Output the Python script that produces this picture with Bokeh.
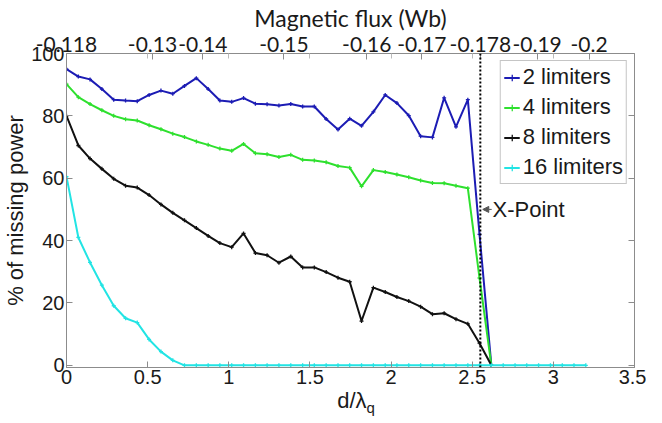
from bokeh.plotting import figure
from bokeh.layouts import column
from bokeh.models import (Range1d, LinearAxis, FixedTicker, Span, Label, Arrow,
                          NormalHead, Legend, LegendItem, Div)
from bokeh.embed import file_html
from bokeh.resources import INLINE

# normalised distance d/lambda_q
D = [0.000, 0.073, 0.145, 0.218, 0.291, 0.364, 0.436, 0.509, 0.582, 0.655,
     0.727, 0.800, 0.873, 0.945, 1.018, 1.091, 1.164, 1.236, 1.309, 1.382,
     1.455, 1.527, 1.600, 1.673, 1.745, 1.818, 1.891, 1.964, 2.036, 2.109,
     2.182, 2.255, 2.327, 2.400, 2.473, 2.545, 2.618, 2.691, 2.764, 2.836,
     2.909, 2.982, 3.055, 3.127, 3.200]

LIM2 = [95.0, 92.6, 91.7, 88.6, 85.2, 84.9, 84.7, 86.7, 88.1, 87.1,
        89.6, 92.1, 88.6, 84.9, 84.5, 85.7, 83.9, 83.7, 83.3, 83.8,
        83.0, 83.0, 79.0, 75.6, 79.1, 76.8, 81.3, 86.7, 84.1, 80.1,
        73.5, 73.1, 85.8, 76.5, 85.2, 42.0, 0.0]
LIM4 = [90.2, 86.0, 83.8, 81.8, 80.0, 78.9, 78.5, 77.0, 75.7, 74.3,
        73.2, 71.8, 70.7, 69.5, 68.8, 71.0, 68.0, 67.7, 66.8, 67.5,
        65.9, 65.7, 65.1, 63.9, 63.4, 57.4, 62.6, 62.0, 61.2, 60.3,
        59.3, 58.5, 58.4, 57.6, 56.8, 28.0, 0.0]
LIM8 = [80.0, 70.5, 66.3, 63.0, 59.8, 57.6, 57.0, 54.6, 51.6, 48.9,
        46.5, 44.0, 41.5, 39.2, 37.9, 42.3, 36.0, 35.3, 32.9, 34.9,
        31.4, 31.4, 29.9, 28.1, 26.8, 14.2, 24.9, 23.5, 21.9, 20.6,
        18.8, 16.4, 16.7, 14.8, 13.3, 7.1, 0.0]
LIM16 = [60.5, 41.0, 33.0, 25.7, 19.1, 15.1, 13.7, 8.3, 4.4, 1.6,
         0.0, 0.0, 0.0, 0.0, 0.0, 0.0, 0.0, 0.0, 0.0, 0.0,
         0.0, 0.0, 0.0, 0.0, 0.0, 0.0, 0.0, 0.0, 0.0, 0.0,
         0.0, 0.0, 0.0, 0.0, 0.0, 0.0, 0.0, 0.0, 0.0, 0.0,
         0.0, 0.0, 0.0, 0.0, 0.0]

SERIES_LABELS = ["2 limiters", "4 limiters", "8 limiters", "16 limiters"]
SERIES_VALUES = [LIM2, LIM4, LIM8, LIM16]
SERIES_COLORS = ["#1c1cb4", "#2ee02e", "#111111", "#22e4e4"]

XTICKS = [0, 0.5, 1, 1.5, 2, 2.5, 3, 3.5]
XTICK_LABELS = ["0", "0.5", "1", "1.5", "2", "2.5", "3", "3.5"]
YTICKS = [0, 20, 40, 60, 80, 100]
FLUX_POS = [0, 0.53, 0.84, 1.34, 1.85, 2.19, 2.55, 2.9, 3.22]
FLUX_LABELS = ["-0.118", "-0.13", "-0.14", "-0.15", "-0.16", "-0.17",
               "-0.178", "-0.19", "-0.2"]
XPOINT = 2.55
XPOINT_Y = 50

AX = "#8c8c8c"
TXT = "#1a1a1a"
FS = "20px"
W = 646
H_MAIN = 386
H_XLAB = 21

p = figure(width=W, height=H_MAIN, output_backend="svg", toolbar_location=None,
           x_range=Range1d(0, 3.5), y_range=Range1d(-0.7, 100),
           min_border_left=0, min_border_right=12, min_border_top=52,
           min_border_bottom=0)
p.grid.visible = False
p.outline_line_color = AX
p.background_fill_color = "white"
p.border_fill_color = "white"


def style(ax, font="Liberation Sans"):
    ax.axis_line_color = AX
    ax.major_tick_line_color = AX
    ax.minor_tick_line_color = AX
    ax.major_tick_in = 6
    ax.major_tick_out = 0
    ax.minor_tick_in = 0
    ax.minor_tick_out = 0
    ax.major_label_text_font = font
    ax.major_label_text_font_size = FS
    ax.major_label_text_color = TXT
    ax.major_label_standoff = 2
    ax.axis_label_text_font = font
    ax.axis_label_text_font_size = "22px"
    ax.axis_label_text_font_style = "normal"
    ax.axis_label_text_color = TXT
    ax.axis_label_standoff = 0


xa = p.xaxis[0]
xa.ticker = FixedTicker(ticks=XTICKS)
xa.major_label_overrides = dict(zip(XTICKS, XTICK_LABELS))
style(xa)

ya = p.yaxis[0]
ya.ticker = FixedTicker(ticks=YTICKS)
ya.axis_label = "% of missing power"
style(ya)

top = LinearAxis(ticker=FixedTicker(ticks=FLUX_POS, minor_ticks=XTICKS),
                 axis_label="Magnetic flux (Wb)",
                 major_label_overrides=dict(zip(FLUX_POS, FLUX_LABELS)))
style(top, "Lato")
top.major_label_text_font_size = "21px"
top.minor_tick_in = 5
top.minor_tick_line_color = "#bbbbbb"
top.axis_label_text_font_size = "23px"
top.axis_label_standoff = 2
p.add_layout(top, "above")

right = LinearAxis(ticker=FixedTicker(ticks=YTICKS),
                   major_label_overrides={t: "" for t in YTICKS})
style(right)
right.major_label_standoff = 0
p.add_layout(right, "right")

items = []
for lab, vals, col in zip(SERIES_LABELS, SERIES_VALUES, SERIES_COLORS):
    xs = D[:len(vals)]
    r1 = p.line(xs, vals, line_color=col, line_width=2)
    r2 = p.scatter(xs, vals, marker="cross", size=4, line_color=col, line_width=1.3)
    items.append(LegendItem(label=lab, renderers=[r1, r2]))

p.add_layout(Span(location=XPOINT, dimension="height", line_color="black",
                  line_width=2, line_dash="2 2"))
p.add_layout(Arrow(end=NormalHead(size=6, fill_color="#555555", line_color="#555555",
                                  line_width=1),
                   x_start=XPOINT + 0.07, y_start=XPOINT_Y,
                   x_end=XPOINT + 0.015, y_end=XPOINT_Y,
                   line_color="#555555", line_width=1))
p.add_layout(Label(x=XPOINT + 0.075, y=XPOINT_Y, text="X-Point",
                   text_baseline="middle", text_font="Liberation Sans",
                   text_font_size="22px", text_color=TXT))

legend = Legend(items=items, location="top_right")
legend.border_line_color = AX
legend.border_line_width = 1
legend.background_fill_color = "white"
legend.background_fill_alpha = 1
legend.label_text_font = "Liberation Sans"
legend.label_text_font_size = "22px"
legend.label_text_color = TXT
legend.glyph_width = 16
legend.glyph_height = 21
legend.label_height = 21
legend.spacing = 4
legend.padding = 3
legend.margin = 7
legend.label_standoff = 3
p.add_layout(legend)

# x axis title "d/λ" with subscript q, as real HTML text under the plot
xlabel = Div(text="<span style='position:relative;left:33px;top:5px'>d/λ"
                  "<sub style='font-size:15px'>q</sub></span>",
             width=W, height=H_XLAB,
             styles={"text-align": "center", "font-family": "Liberation Sans",
                     "font-size": "22px", "line-height": "20px", "color": TXT,
                     "margin": "0", "padding": "0", "overflow": "visible"})

layout = column(p, xlabel, spacing=0)
open("out.html", "w").write(file_html(layout, INLINE))
